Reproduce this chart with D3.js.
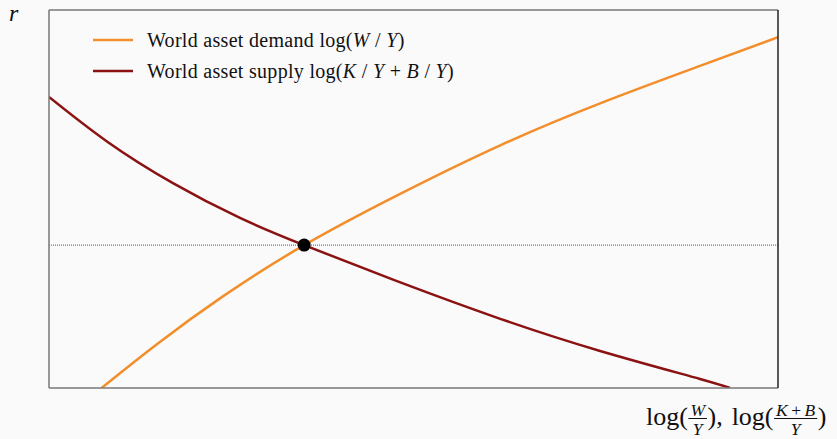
<!DOCTYPE html>
<html>
<head>
<meta charset="utf-8">
<script src="https://cdn.jsdelivr.net/npm/d3@7"></script>
<style>
  html, body { margin: 0; padding: 0; background: #fafafa; }
  svg { display: block; }
  text { font-family: "Liberation Serif", "DejaVu Serif", serif; fill: #111; }
</style>
</head>
<body>
<svg id="chart" width="837" height="439"></svg>
<script>
// Asset demand curve: log(W/Y) against r
const demandX = [0.72, 1.48, 2.39, 3.50, 4.81, 6.19, 7.56, 8.93, 10.0];
const demandR = [0.00, 1.16, 2.43, 3.78, 5.13, 6.42, 7.53, 8.52, 9.28];
// Asset supply curve: log(K/Y + B/Y) against r
const supplyX = [0.00, 0.79, 1.70, 2.62, 3.50, 4.81, 6.19, 7.56, 8.93, 9.34];
const supplyR = [7.70, 6.53, 5.42, 4.50, 3.78, 2.80, 1.83, 0.98, 0.24, 0.00];
// Equilibrium
const eqX = [3.50];
const eqR = [3.78];
const seriesColors = ["#f28e2b", "#8b1212"];

const svg = d3.select("#chart");
const W = 837, H = 439;
const margin = { left: 49, top: 10, right: W - 778, bottom: H - 388 };

const x = d3.scaleLinear().domain([0, 10]).range([margin.left, W - margin.right]);
const y = d3.scaleLinear().domain([0, 10]).range([H - margin.bottom, margin.top]);

svg.append("clipPath").attr("id", "plotclip")
  .append("rect")
  .attr("x", x(0)).attr("y", y(10))
  .attr("width", x(10) - x(0)).attr("height", y(0) - y(10));

const plot = svg.append("g").attr("clip-path", "url(#plotclip)");

// dotted equilibrium rate line
plot.append("line")
  .attr("x1", x(0)).attr("x2", x(10))
  .attr("y1", y(eqR[0])).attr("y2", y(eqR[0]))
  .attr("stroke", "#555").attr("stroke-width", 1)
  .attr("stroke-dasharray", "1,1");

const line = d3.line()
  .x(d => x(d[0])).y(d => y(d[1]))
  .curve(d3.curveNatural);

const demand = demandX.map((v, i) => [v, demandR[i]]);
const supply = supplyX.map((v, i) => [v, supplyR[i]]);

plot.append("path").datum(supply)
  .attr("d", line).attr("fill", "none")
  .attr("stroke", seriesColors[1]).attr("stroke-width", 2.5);

plot.append("path").datum(demand)
  .attr("d", line).attr("fill", "none")
  .attr("stroke", seriesColors[0]).attr("stroke-width", 2.5);

// equilibrium point
svg.append("circle")
  .attr("cx", x(eqX[0])).attr("cy", y(eqR[0])).attr("r", 6.5)
  .attr("fill", "#000");

// frame
const f = svg.append("g").attr("fill", "none").attr("stroke-width", 1.5);
f.append("line").attr("x1", x(0)).attr("x2", x(10)).attr("y1", y(10)).attr("y2", y(10)).attr("stroke", "#777");
f.append("line").attr("x1", x(0)).attr("x2", x(10)).attr("y1", y(0)).attr("y2", y(0)).attr("stroke", "#777");
f.append("line").attr("x1", x(0)).attr("x2", x(0)).attr("y1", y(10)).attr("y2", y(0)).attr("stroke", "#777");
f.append("line").attr("x1", x(10)).attr("x2", x(10)).attr("y1", y(10)).attr("y2", y(0)).attr("stroke", "#222");

// legend
const legend = svg.append("g").attr("transform", "translate(93,40)");
const legendLines = [
  [{ t: "World asset demand log(" }, { t: "W", i: true }, { t: " / " }, { t: "Y", i: true }, { t: ")" }],
  [{ t: "World asset supply log(" }, { t: "K", i: true }, { t: " / " }, { t: "Y", i: true }, { t: " + " }, { t: "B", i: true }, { t: " / " }, { t: "Y", i: true }, { t: ")" }]
];
legendLines.forEach((parts, k) => {
  const g = legend.append("g").attr("transform", `translate(0,${k * 31})`);
  g.append("line").attr("x1", 0).attr("x2", 40).attr("y1", 0).attr("y2", 0)
    .attr("stroke", seriesColors[k]).attr("stroke-width", 2.5);
  const t = g.append("text").attr("x", 54).attr("y", 6.5)
    .attr("font-size", 20).attr("letter-spacing", 0.3);
  parts.forEach(p => {
    t.append("tspan").text(p.t).attr("font-style", p.i ? "italic" : null);
  });
});

// axis labels
svg.append("text").attr("x", 9).attr("y", 21).attr("font-size", 24)
  .attr("font-style", "italic").text("r");

const xl = svg.append("g").attr("transform", "translate(646,425)");
const fs = 26, sfs = 17.5;
let cx = 0;
function put(str, size, italic) {
  const el = xl.append("text").attr("x", cx).attr("y", 0)
    .attr("font-size", size).attr("font-style", italic ? "italic" : null).text(str);
  return el.node().getComputedTextLength();
}
function frac(numParts, den) {
  const g = xl.append("g");
  const n = g.append("text").attr("font-size", sfs).attr("y", -9.5);
  numParts.forEach(p => n.append("tspan").text(p.t).attr("font-style", p.i ? "italic" : null));
  const d = g.append("text").attr("font-size", sfs).attr("font-style", "italic").attr("y", 10).text(den);
  const wn = n.node().getComputedTextLength(), wd = d.node().getComputedTextLength();
  const w = Math.max(wn, wd) + 5;
  n.attr("x", cx + (w - wn) / 2); d.attr("x", cx + (w - wd) / 2);
  g.append("line").attr("x1", cx + 0.5).attr("x2", cx + w - 0.5).attr("y1", -6.5).attr("y2", -6.5)
    .attr("stroke", "#111").attr("stroke-width", 1);
  return w;
}
cx += put("log(", fs);
cx += frac([{ t: "W", i: true }], "Y");
cx += put("),", fs) + 9;
cx += put("log(", fs);
cx += frac([{ t: "K", i: true }, { t: "\u2009+\u2009" }, { t: "B", i: true }], "Y");
cx += put(")", fs);
</script>
</body>
</html>
